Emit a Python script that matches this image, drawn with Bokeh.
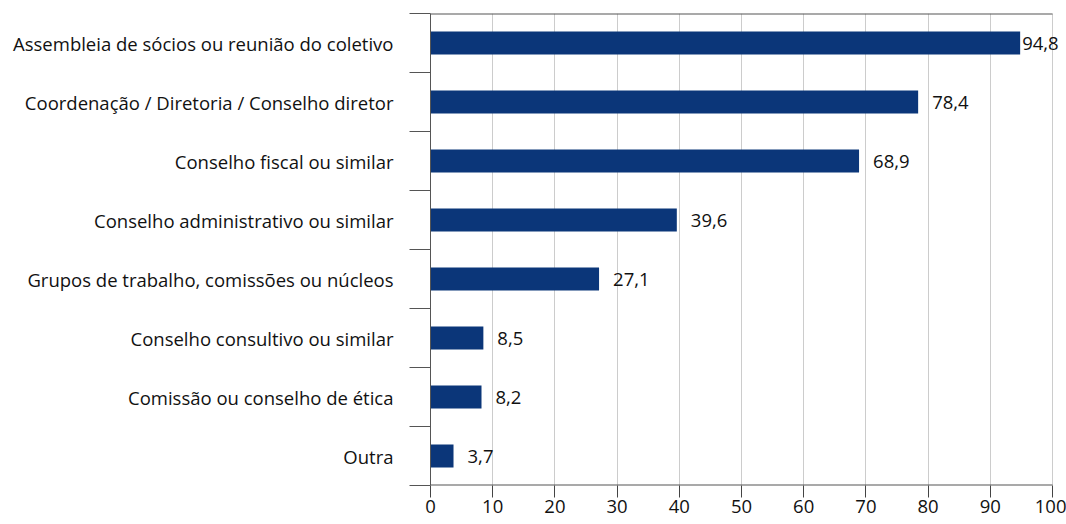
from bokeh.plotting import figure
from bokeh.models import ColumnDataSource, Range1d, FixedTicker
from bokeh.core.properties import value
from bokeh.embed import file_html
from bokeh.resources import INLINE

categories = [
    "Assembleia de sócios ou reunião do coletivo",
    "Coordenação / Diretoria / Conselho diretor",
    "Conselho fiscal ou similar",
    "Conselho administrativo ou similar",
    "Grupos de trabalho, comissões ou núcleos",
    "Conselho consultivo ou similar",
    "Comissão ou conselho de ética",
    "Outra",
]
values = [94.8, 78.4, 68.9, 39.6, 27.1, 8.5, 8.2, 3.7]
x_ticks = [0, 10, 20, 30, 40, 50, 60, 70, 80, 90, 100]
x_max = 100

FONT = "Open Sans"
BAR = "#0b3679"
AXIS = "#555555"

n = len(categories)
pos = list(range(1, n + 1))
labels = [f"{v:.1f}".replace(".", ",") for v in values]
offsets = [2 if v > 90 else 14 for v in values]

src = ColumnDataSource(dict(y=pos, v=values, lab=labels, off=offsets))

# frame is 636 px wide; the axis scale ends at 100 at 622 px, leaving room for the last value label
p = figure(
    width=1066, height=524,
    x_range=Range1d(0, x_max * 636 / 622), y_range=Range1d(n + 0.5, 0.5),
    output_backend="svg", toolbar_location=None,
    min_border_left=430, min_border_right=0, min_border_top=13, min_border_bottom=39,
)
p.outline_line_color = None
p.background_fill_color = "white"

p.xgrid.ticker = FixedTicker(ticks=x_ticks)
p.xgrid.grid_line_color = "#cccccc"
p.ygrid.grid_line_color = None

p.hbar(y="y", left=0, right="v", height=0.39, source=src, color=BAR, line_color=None)

p.text(x="v", y="y", text="lab", x_offset="off", source=src,
       text_font=value(FONT), text_font_size="18.5px", text_color="#111111",
       text_align="left", text_baseline="middle")

# top and bottom frame lines, from 0 to 100 only
p.segment(x0=[0, 0], x1=[x_max, x_max], y0=[0.5, n + 0.5], y1=[0.5, n + 0.5],
          line_color=AXIS, line_width=2)

# x axis
xa = p.xaxis[0]
xa.ticker = FixedTicker(ticks=x_ticks)
xa.major_tick_out = 12
xa.major_tick_in = 0
xa.minor_tick_out = 0
xa.minor_tick_in = 0
xa.axis_line_color = None
xa.major_tick_line_color = "#444444"
xa.major_label_text_font = FONT
xa.major_label_text_font_size = "18.5px"
xa.major_label_text_color = "#111111"
xa.major_label_standoff = 2

# y axis
ya = p.yaxis[0]
ya.ticker = FixedTicker(ticks=pos, minor_ticks=[i + 0.5 for i in range(0, n + 1)])
ya.major_label_overrides = {pos[i]: categories[i] for i in range(n)}
ya.major_tick_out = 0
ya.major_tick_in = 0
ya.minor_tick_out = 21
ya.minor_tick_in = 0
ya.minor_tick_line_color = AXIS
ya.axis_line_color = AXIS
ya.major_label_text_font = FONT
ya.major_label_text_font_size = "18.5px"
ya.major_label_text_color = "#111111"
ya.major_label_standoff = 16

open("out.html", "w").write(file_html(p, INLINE))
